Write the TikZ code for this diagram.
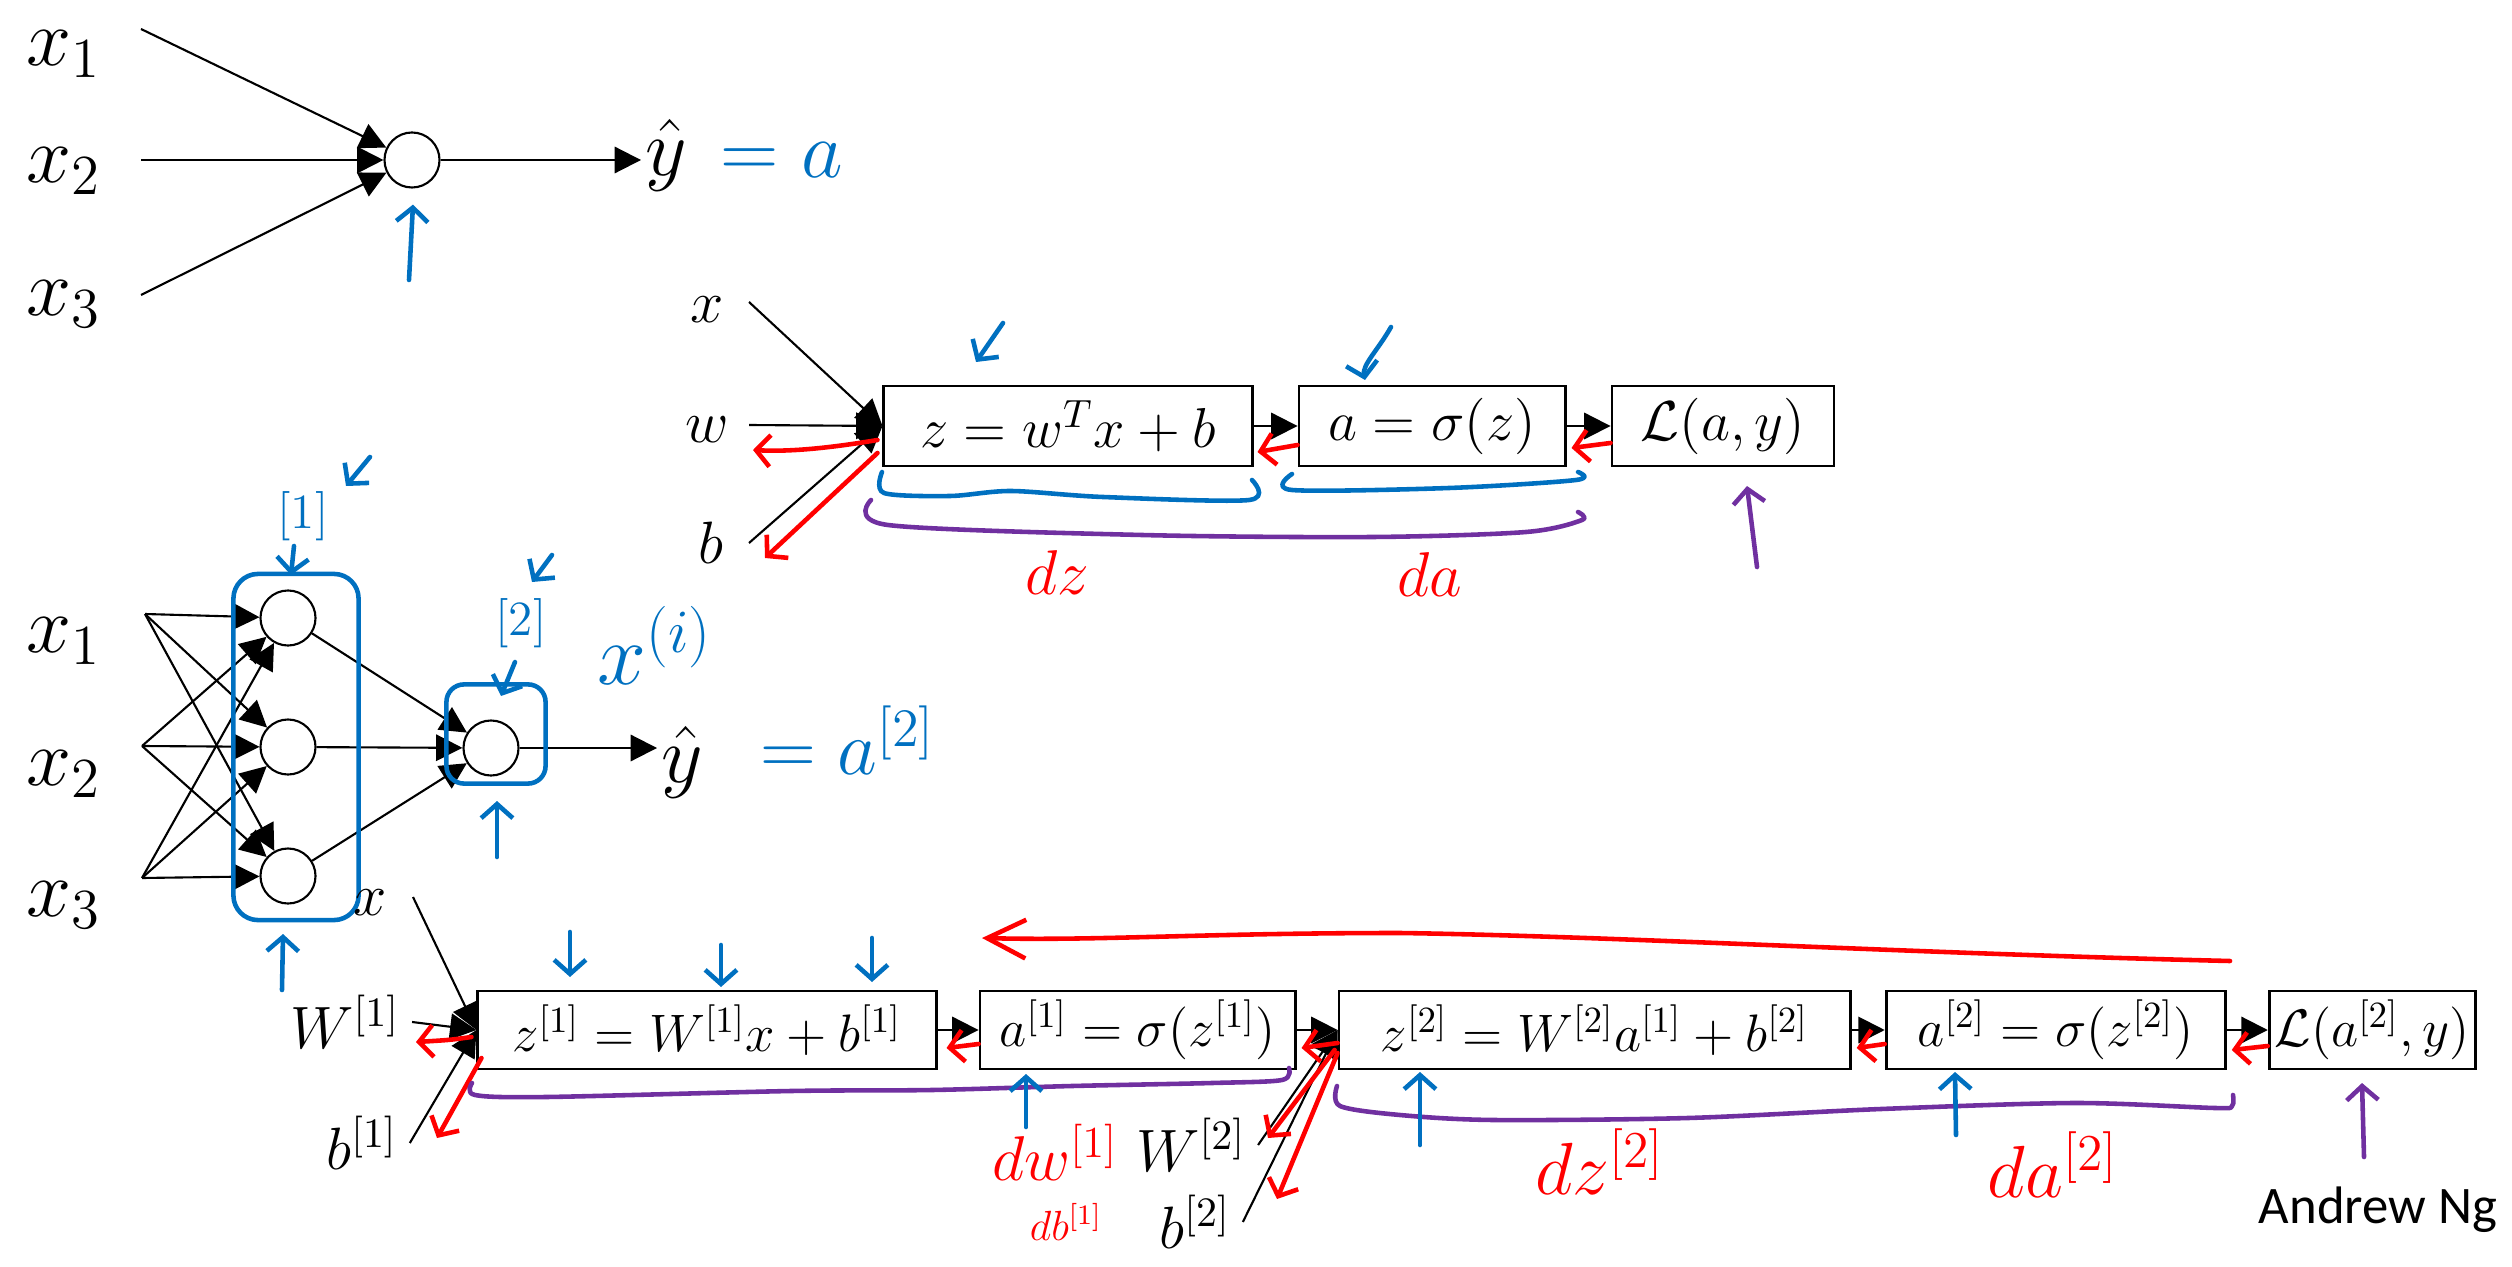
\RequirePackage{fix-cm}
\documentclass[tikz,border=0pt]{standalone}
\usepackage{amsmath}
\usepackage{fontspec}
\usetikzlibrary{arrows.meta, positioning, fit, calc}
\newfontfamily\ngfont{Carlito}
\definecolor{inkblue}{RGB}{0,112,192}
\definecolor{inkred}{RGB}{255,0,0}
\definecolor{inkpurple}{RGB}{112,48,160}

\begin{document}
\begin{tikzpicture}[
    x=0.01cm, y=-0.01cm,
    box/.style={rectangle, draw, thick, minimum height=0.8cm, inner sep=1pt},
    topbox/.style={box, font=\fontsize{16}{19}\selectfont},
    botbox/.style={box, minimum height=0.78cm, font=\fontsize{15}{18}\selectfont},
    neuron/.style={circle, draw, semithick, minimum size=0.55cm, inner sep=0pt},
    bigvar/.style={font=\fontsize{23}{27}\selectfont, inner sep=1pt},
    var/.style={font=\fontsize{17}{20}\selectfont},
    fwd/.style={-{Triangle[length=7.5pt, width=7.5pt]}, semithick},
    ink/.style={line width=1.3pt, line cap=round, line join=round},
    inkarrow/.style={ink, -{Straight Barb[length=4pt, width=9pt]}},
    blueink/.style={ink, draw=inkblue},
    redink/.style={ink, draw=inkred},
    purpleink/.style={ink, draw=inkpurple},
    scrawl/.style={font=\fontsize{18}{21}\selectfont}
]
\useasboundingbox (0,0) rectangle (2512,1267);

    % Single neuron
    \node[neuron] (n0) at (412,160) {};
    \node[bigvar] (x1) at (64,54) {$x_1$};
    \node[bigvar] (x2) at (64,171) {$x_2$};
    \node[bigvar] (x3) at (64,304) {$x_3$};
    \coordinate (s1) at (141,29);
    \coordinate (s2) at (141,160);
    \coordinate (s3) at (141,295);
    \foreach \i in {1,2,3}
        \draw[fwd] (s\i) -- (n0);
    \node[bigvar] (yhat) at (666,155) {$\hat{y}$};
    \draw[fwd] (n0.east) -- (n0.east -| yhat.west);
    \node[inkblue, inner sep=1pt, font=\fontsize{23}{27}\selectfont] (ya) at (782,160) {$= a$};
    \coordinate (n0up) at (409,280);
    \draw[inkarrow, inkblue] (n0up) -- ($(n0.south)+(1,16)$);

    % Logistic regression graph
    \node[topbox, minimum width=3.68cm] (lz) at (1068,426) {$z = w^Tx + b$};
    \node[topbox, minimum width=2.66cm, right=0.44cm of lz] (la) {$a = \sigma(z)$};
    \node[topbox, minimum width=2.22cm, right=0.44cm of la] (lloss) {$\mathcal{L}(a,y)$};
    \node[var] (lx) at (707,310) {$x$};
    \node[var] (lw) at (707,430) {$w$};
    \node[var] (lb) at (711,543) {$b$};
    \coordinate (lxs) at (749,302);
    \coordinate (lws) at (749,425);
    \coordinate (lbs) at (749,543);
    \draw[fwd] (lxs) -- (lz.west);
    \draw[fwd] (lws) -- (lz.west);
    \draw[fwd] (lbs) -- (lz.west);
    \draw[fwd] (lz) -- (la);
    \draw[fwd] (la) -- (lloss);

    % backward pass notes
    \draw[inkarrow, inkred] ($(lz.west)+(-5,14)$) .. controls (830,448) and (790,452) .. (753,450);
    \draw[inkarrow, inkred] ($(lz.west)+(-5,27)$) -- (765,558);
    \draw[inkarrow, inkred] ($(la.west)+(0,19)$) -- ($(lz.east)+(4,26)$);
    \draw[inkarrow, inkred] ($(lloss.west)+(0,17)$) -- ($(la.east)+(5,22)$);
    \draw[inkarrow, inkblue] (1003,323) -- (976,362);
    \draw[inkarrow, inkblue] (1391,327) .. controls (1378,350) and (1362,365) .. (1365,380);
    \draw[blueink] plot[smooth, tension=0.5] coordinates {(882,472) (884,493) (950,496) (1011,491) (1103,497) (1249,500) (1252,480)};
    \draw[blueink] plot[smooth, tension=0.5] coordinates {(1292,474) (1292,490) (1449,488) (1576,480) (1578,472)};
    \draw[purpleink] plot[smooth, tension=0.5] coordinates {(871,500) (888,525) (1142,535) (1372,537) (1526,532) (1582,520) (1578,512)};
    \node[scrawl, inkred] (dz) at (1057,573) {$dz$};
    \node[scrawl, inkred] (da) at (1430,575) {$da$};
    \draw[inkarrow, inkpurple] (1757,567) -- (1747,486);

    % Two layer network
    \node[bigvar] (bx1) at (64,641) {$x_1$};
    \node[bigvar] (bx2) at (64,774) {$x_2$};
    \node[bigvar] (bx3) at (64,905) {$x_3$};
    \coordinate (f1) at (145,614);
    \coordinate (f2) at (142,746);
    \coordinate (f3) at (142,878);
    \node[neuron] (h1) at (288,618) {};
    \node[neuron] (h2) at (288,747) {};
    \node[neuron] (h3) at (288,876) {};
    \node[neuron] (out) at (491,748) {};
    \foreach \i in {1,2,3}
        \foreach \j in {1,2,3}
            \draw[fwd] (f\i) -- (h\j);
    \foreach \j in {1,2,3}
        \draw[fwd] (h\j) -- (out);
    \node[bigvar] (yhat2) at (682,762) {$\hat{y}$};
    \draw[fwd] (out.east) -- (out.east -| yhat2.west);

    % layer notes
    \node[blueink, rounded corners=7pt, fit=(h1)(h3), inner xsep=0.34cm, inner ysep=0.155cm, xshift=0.08cm] (layer1) {};
    \node[blueink, rounded corners=5pt, fit=(out), inner sep=0.21cm, xshift=0.05cm, yshift=0.14cm] (layer2) {};
    \node[inkblue, font=\fontsize{14}{16}\selectfont] (l1) at (303,516) {[1]};
    \draw[inkarrow, inkblue] (294,546) -- (291,575);
    \draw[inkarrow, inkblue] (370,457) -- (346,486);
    \node[inkblue, font=\fontsize{14}{16}\selectfont] (l2) at (521,623) {[2]};
    \draw[inkarrow, inkblue] (552,555) -- (532,582);
    \draw[inkarrow, inkblue] (515,662) -- (501,696);
    \node[inkblue, font=\fontsize{25}{29}\selectfont] (xi) at (655,645) {$x^{(i)}$};
    \node[inkblue, inner sep=1pt, font=\fontsize{22}{26}\selectfont] (ya2) at (848,740) {$= a^{[2]}$};
    \draw[inkarrow, inkblue] (282,990) -- (283,934);
    \draw[inkarrow, inkblue] (497,857) -- (497,801);

    % Two layer computation graph
    \node[botbox, minimum width=4.58cm] (z1) at (707,1030) {$z^{[1]} = W^{[1]}x + b^{[1]}$};
    \node[botbox, minimum width=3.15cm, right=0.41cm of z1] (a1) {$a^{[1]} = \sigma(z^{[1]})$};
    \node[botbox, minimum width=5.11cm, right=0.41cm of a1] (z2) {$z^{[2]} = W^{[2]}a^{[1]} + b^{[2]}$};
    \node[botbox, minimum width=3.39cm, right=0.33cm of z2] (a2) {$a^{[2]} = \sigma(z^{[2]})$};
    \node[botbox, minimum width=2.06cm, right=0.41cm of a2] (loss) {$\mathcal{L}(a^{[2]}, y)$};
    \node[var] (bx) at (370,903) {$x$};
    \node[var] (W1) at (345,1022) {$W^{[1]}$};
    \node[var] (b1) at (362,1143) {$b^{[1]}$};
    \node[var] (W2) at (1191,1145) {$W^{[2]}$};
    \node[var] (b2) at (1195,1222) {$b^{[2]}$};
    \coordinate (bxs) at (413,897);
    \draw[fwd] (bxs) -- (z1.west);
    \draw[fwd] (W1.east) -- (z1.west);
    \draw[fwd] (b1.east) -- (z1.west);
    \draw[fwd] (z1) -- (a1);
    \draw[fwd] (a1) -- (z2);
    \draw[fwd] (W2.east) -- (z2.west);
    \draw[fwd] (b2.east) -- (z2.west);
    \draw[fwd] (z2) -- (a2);
    \draw[fwd] (a2) -- (loss);

    % backward pass notes
    \draw[inkarrow, inkred, -{Straight Barb[length=11pt, width=11pt]}] (2230,961) .. controls (1900,953) and (1610,936) .. (1400,933) .. controls (1200,933) and (1100,941) .. (982,938);
    \draw[inkarrow, inkred] ($(z1.west)+(-5,7)$) .. controls (450,1040) .. (416,1042);
    \draw[inkarrow, inkred] ($(z1.west)+(5,28)$) -- (437,1138);
    \draw[inkarrow, inkred] ($(a1.west)+(0,14)$) -- ($(z1.east)+(9,18)$);
    \draw[inkarrow, inkred] ($(z2.west)+(0,13)$) -- ($(a1.east)+(5,18)$);
    \draw[inkarrow, inkred] ($(z2.west)+(-3,20)$) -- (1268,1138);
    \draw[inkarrow, inkred] ($(z2.west)+(0,23)$) -- (1277,1199);
    \draw[inkarrow, inkred] ($(a2.west)+(0,14)$) -- ($(z2.east)+(5,18)$);
    \draw[inkarrow, inkred] ($(loss.west)+(0,16)$) -- ($(a2.east)+(5,20)$);
    \draw[inkarrow, inkblue] (570,932) -- (570,977);
    \draw[inkarrow, inkblue] (721,945) -- (721,987);
    \draw[inkarrow, inkblue] (872,938) -- (872,982);
    \draw[purpleink] plot[smooth, tension=0.5] coordinates {(472,1083) (475,1095) (546,1097) (791,1091) (932,1090) (1072,1086) (1212,1083) (1282,1080) (1289,1068)};
    \draw[purpleink] plot[smooth, tension=0.5] coordinates {(1337,1086) (1340,1106) (1400,1115) (1494,1120) (1688,1118) (1881,1109) (2075,1103) (2215,1108) (2232,1106) (2233,1095)};
    \draw[inkarrow, inkblue] (1026,1127) -- (1026,1074);
    \draw[inkarrow, inkblue] (1420,1145) -- (1420,1072);
    \draw[inkarrow, inkblue] (1956,1135) -- (1955,1072);
    \draw[inkarrow, inkpurple] (2364,1157) -- (2362,1083);
    \node[scrawl, inkred] (dw1) at (1055,1152) {$dw^{[1]}$};
    \node[inkred, font=\fontsize{12}{14}\selectfont] (db1) at (1066,1222) {$db^{[1]}$};
    \node[inkred, font=\fontsize{21}{24}\selectfont] (dz2) at (1600,1162) {$dz^{[2]}$};
    \node[inkred, font=\fontsize{21}{24}\selectfont] (da2) at (2053,1165) {$da^{[2]}$};
    \node[font=\ngfont\fontsize{15}{18}\selectfont] (author) at (2378,1210) {Andrew Ng};

\end{tikzpicture}
\end{document}
